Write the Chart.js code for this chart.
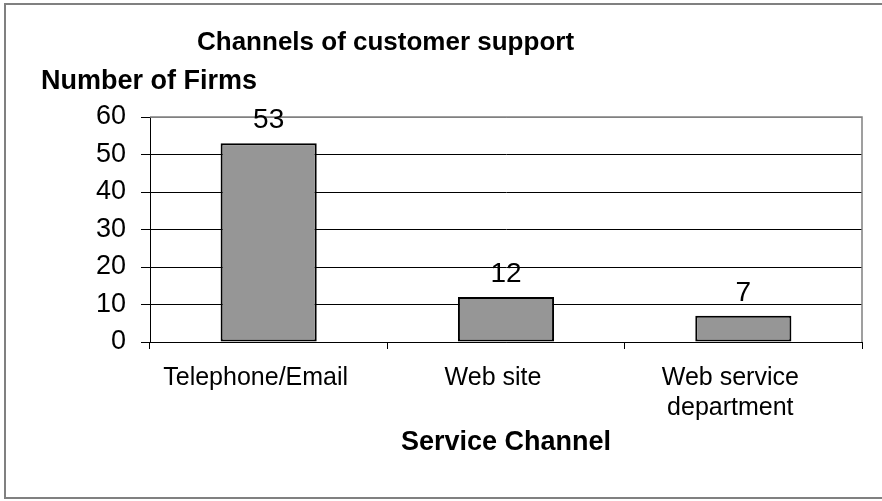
<!DOCTYPE html>
<html>
<head>
<meta charset="utf-8">
<script src="https://cdn.jsdelivr.net/npm/chart.js@4.4.1/dist/chart.umd.min.js"></script>
<style>
  body { margin: 0; background: #fff; }
  #chart { display: block; }
</style>
</head>
<body>
<canvas id="chart" width="882" height="501"></canvas>
<script>
// data
const channels = ['Telephone/Email', 'Web site', ['Web service', 'department']];
const firms = [53, 12, 7];
const yTicks = [0, 10, 20, 30, 40, 50, 60];

const chartTitle = 'Channels of customer support';
const yTitle = 'Number of Firms';
const xTitle = 'Service Channel';

const FONT = "'Liberation Sans', Arial, sans-serif";

// outer frame + plot-area frame (gray, like the old spreadsheet look)
const frame = {
    id: 'frame',
    beforeDraw(chart) {
        const c = chart.ctx;
        c.save();
        c.fillStyle = '#fff';
        c.fillRect(0, 0, chart.width, chart.height);
        c.strokeStyle = '#808080';
        c.lineWidth = 2;
        c.strokeRect(5, 4, 900, 494);
        c.restore();
    },
    beforeDatasetsDraw(chart) {
        const a = chart.chartArea;
        const c = chart.ctx;
        c.save();
        c.strokeStyle = '#808080';
        c.lineWidth = 1.5;
        c.beginPath();
        c.moveTo(a.left, a.top);
        c.lineTo(a.right, a.top);
        c.lineTo(a.right, a.bottom);
        c.stroke();
        c.restore();
    }
};

// titles and value labels
const texts = {
    id: 'texts',
    afterDraw(chart) {
        const c = chart.ctx;
        c.save();
        c.fillStyle = '#000';
        c.textBaseline = 'alphabetic';

        c.textAlign = 'left';
        c.font = 'bold 26px ' + FONT;
        c.fillText(chartTitle, 197, 50);
        c.font = 'bold 27px ' + FONT;
        c.fillText(yTitle, 41, 89);

        c.textAlign = 'center';
        c.font = 'bold 27px ' + FONT;
        c.fillText(xTitle, (chart.chartArea.left + chart.chartArea.right) / 2, 450);

        c.font = '28px ' + FONT;
        chart.getDatasetMeta(0).data.forEach((bar, i) => {
            c.fillText(String(firms[i]), bar.x, bar.y - 15);
        });
        c.restore();
    }
};

new Chart(document.getElementById('chart'), {
    type: 'bar',
    data: {
        labels: channels,
        datasets: [{
            data: firms,
            backgroundColor: '#969696',
            borderColor: '#000',
            borderWidth: 2,
            borderSkipped: false,
            barPercentage: 0.405,
            categoryPercentage: 1
        }]
    },
    options: {
        responsive: false,
        devicePixelRatio: 1,
        animation: false,
        layout: { padding: { top: 117, right: 20, left: 0, bottom: 0 } },
        plugins: {
            legend: { display: false },
            tooltip: { enabled: false }
        },
        scales: {
            x: {
                offset: true,
                afterFit: (scale) => { scale.height = 159; },
                border: { color: '#000', width: 1 },
                grid: {
                    offset: true,
                    drawOnChartArea: false,
                    color: '#000',
                    tickLength: 7
                },
                ticks: {
                    color: '#000',
                    font: { family: FONT, size: 25 },
                    padding: 14,
                    labelOffset: -13,
                    maxRotation: 0,
                    autoSkip: false
                }
            },
            y: {
                min: 0,
                max: 60,
                afterFit: (scale) => { scale.width = 150; },
                afterBuildTicks: (scale) => { scale.ticks = yTicks.map(v => ({ value: v })); },
                border: { color: '#000', width: 1 },
                grid: {
                    color: (ctx) => ctx.tick && ctx.tick.value === 60 ? '#808080' : '#000',
                    tickColor: '#000',
                    lineWidth: 1,
                    tickLength: 9
                },
                ticks: {
                    color: '#000',
                    font: { family: FONT, size: 27 },
                    padding: 15
                }
            }
        }
    },
    plugins: [frame, texts]
});
</script>
</body>
</html>
